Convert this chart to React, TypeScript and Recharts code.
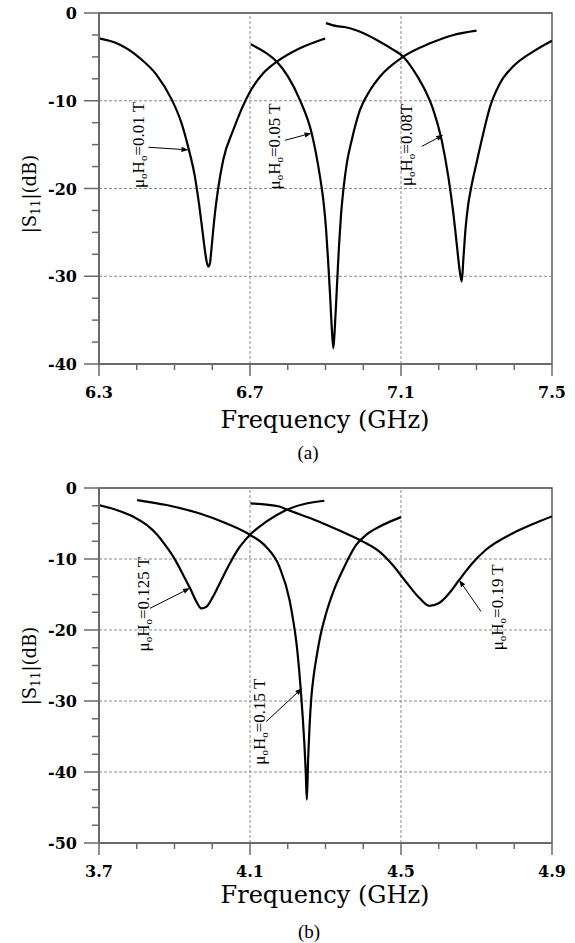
import React from 'react';
import { LineChart, Line, XAxis, YAxis, ReferenceLine, ReferenceDot, ReferenceArea } from 'recharts';

// ---------- Data: panel (a) ----------
const curveA001 = [
  { f: 6.3, v: -2.9 }, { f: 6.347, v: -3.46 }, { f: 6.409, v: -5.17 }, { f: 6.453, v: -7.07 },
  { f: 6.493, v: -9.9 }, { f: 6.519, v: -12.6 }, { f: 6.537, v: -15.4 }, { f: 6.554, v: -18.65 },
  { f: 6.566, v: -22.1 }, { f: 6.574, v: -24.8 }, { f: 6.581, v: -27.2 }, { f: 6.586, v: -28.5 },
  { f: 6.59, v: -28.9 }, { f: 6.594, v: -28.5 }, { f: 6.597, v: -27.3 }, { f: 6.602, v: -25.0 },
  { f: 6.608, v: -22.5 }, { f: 6.615, v: -20.2 }, { f: 6.629, v: -16.75 }, { f: 6.656, v: -13.3 },
  { f: 6.7, v: -8.97 }, { f: 6.735, v: -6.87 }, { f: 6.771, v: -5.55 }, { f: 6.832, v: -4.02 },
  { f: 6.899, v: -2.9 },
];
const curveA005 = [
  { f: 6.702, v: -3.57 }, { f: 6.744, v: -4.6 }, { f: 6.771, v: -5.55 }, { f: 6.8, v: -7.2 },
  { f: 6.832, v: -9.9 }, { f: 6.8634, v: -13.7 }, { f: 6.8748, v: -16.0 }, { f: 6.8854, v: -18.65 },
  { f: 6.8947, v: -21.5 }, { f: 6.9013, v: -24.5 }, { f: 6.9066, v: -28.0 }, { f: 6.9119, v: -32.0 },
  { f: 6.9172, v: -36.3 }, { f: 6.9207, v: -38.2 }, { f: 6.9252, v: -35.5 }, { f: 6.9305, v: -31.0 },
  { f: 6.9358, v: -26.5 }, { f: 6.9411, v: -23.0 }, { f: 6.9477, v: -20.0 }, { f: 6.957, v: -17.0 },
  { f: 6.9694, v: -14.5 }, { f: 6.9914, v: -11.05 }, { f: 7.018, v: -8.8 }, { f: 7.044, v: -7.26 },
  { f: 7.106, v: -4.98 }, { f: 7.177, v: -3.46 }, { f: 7.239, v: -2.5 }, { f: 7.3, v: -2.0 },
];
const curveA008 = [
  { f: 6.901, v: -1.15 }, { f: 6.93, v: -1.5 }, { f: 6.95, v: -1.6 }, { f: 6.983, v: -2.0 },
  { f: 7.044, v: -3.27 }, { f: 7.08, v: -4.2 }, { f: 7.106, v: -4.98 }, { f: 7.133, v: -6.5 },
  { f: 7.159, v: -8.4 }, { f: 7.1856, v: -11.05 }, { f: 7.2078, v: -14.5 }, { f: 7.2253, v: -18.65 },
  { f: 7.2386, v: -22.8 }, { f: 7.2476, v: -26.3 }, { f: 7.255, v: -29.2 }, { f: 7.2608, v: -30.6 },
  { f: 7.2656, v: -27.8 }, { f: 7.2709, v: -24.6 }, { f: 7.2775, v: -22.0 }, { f: 7.2854, v: -20.0 },
  { f: 7.3005, v: -17.0 }, { f: 7.318, v: -13.7 }, { f: 7.3358, v: -10.7 }, { f: 7.3623, v: -8.0 },
  { f: 7.3967, v: -6.1 }, { f: 7.4497, v: -4.4 }, { f: 7.5, v: -3.15 },
];
const xTicksA = [6.3, 6.4, 6.5, 6.6, 6.7, 6.8, 6.9, 7.0, 7.1, 7.2, 7.3, 7.4, 7.5];
const xMajorA = [6.3, 6.7, 7.1, 7.5];
const yTicksA = [0, -2.5, -5, -7.5, -10, -12.5, -15, -17.5, -20, -22.5, -25, -27.5, -30, -32.5, -35, -37.5, -40];
const yMajorA = [0, -10, -20, -30, -40];
const xGridA = [6.7, 7.1];
const yGridA = [-10, -20, -30];
const labelsA = [
  { f: 6.419, v: -15.04, text: '=0.01 T' },
  { f: 6.779, v: -15.2, text: '=0.05 T' },
  { f: 7.129, v: -15.04, text: '=0.08T' },
];
const arrowsA = [
  { f1: 6.431, v1: -15.3, f2: 6.537, v2: -15.6 },
  { f1: 6.793, v1: -14.5, f2: 6.863, v2: -13.7 },
  { f1: 7.155, v1: -15.2, f2: 7.212, v2: -13.9 },
];

// ---------- Data: panel (b) ----------
const curveB0125 = [
  { f: 3.7, v: -2.4 }, { f: 3.747, v: -3.1 }, { f: 3.791, v: -4.04 }, { f: 3.826, v: -5.2 },
  { f: 3.853, v: -6.5 }, { f: 3.879, v: -8.3 }, { f: 3.901, v: -10.05 }, { f: 3.923, v: -12.25 },
  { f: 3.941, v: -14.1 }, { f: 3.958, v: -16.0 }, { f: 3.971, v: -16.95 }, { f: 3.985, v: -16.7 },
  { f: 4.002, v: -15.3 }, { f: 4.02, v: -13.4 }, { f: 4.042, v: -11.1 }, { f: 4.064, v: -9.0 },
  { f: 4.1, v: -6.6 }, { f: 4.143, v: -4.75 }, { f: 4.196, v: -3.1 }, { f: 4.297, v: -1.8 },
];
const curveB015 = [
  { f: 3.801, v: -1.7 }, { f: 3.879, v: -2.4 }, { f: 3.967, v: -3.6 }, { f: 4.038, v: -5.0 },
  { f: 4.1, v: -6.6 }, { f: 4.143, v: -8.3 }, { f: 4.178, v: -11.1 }, { f: 4.2049, v: -15.8 },
  { f: 4.2155, v: -19.0 }, { f: 4.2234, v: -22.0 }, { f: 4.23, v: -25.5 }, { f: 4.2353, v: -29.0 },
  { f: 4.24, v: -32.5 }, { f: 4.244, v: -36.0 }, { f: 4.2477, v: -40.0 }, { f: 4.2506, v: -43.9 },
  { f: 4.2541, v: -38.0 }, { f: 4.2578, v: -33.5 }, { f: 4.2625, v: -29.5 }, { f: 4.2683, v: -26.6 },
  { f: 4.2763, v: -23.8 }, { f: 4.2842, v: -21.4 }, { f: 4.3019, v: -17.6 }, { f: 4.3193, v: -14.8 },
  { f: 4.3458, v: -11.55 }, { f: 4.3812, v: -8.0 }, { f: 4.4077, v: -6.6 }, { f: 4.4428, v: -5.45 },
  { f: 4.5, v: -4.1 },
];
const curveB019 = [
  { f: 4.101, v: -2.16 }, { f: 4.178, v: -2.6 }, { f: 4.196, v: -3.0 }, { f: 4.267, v: -4.4 },
  { f: 4.337, v: -6.0 }, { f: 4.399, v: -7.55 }, { f: 4.443, v: -8.97 }, { f: 4.478, v: -10.85 },
  { f: 4.513, v: -13.2 }, { f: 4.549, v: -15.5 }, { f: 4.575, v: -16.6 }, { f: 4.601, v: -16.2 },
  { f: 4.628, v: -14.8 }, { f: 4.654, v: -12.96 }, { f: 4.689, v: -10.6 }, { f: 4.725, v: -8.7 },
  { f: 4.795, v: -6.4 }, { f: 4.848, v: -5.1 }, { f: 4.9, v: -4.0 },
];
const xTicksB = [3.7, 3.8, 3.9, 4.0, 4.1, 4.2, 4.3, 4.4, 4.5, 4.6, 4.7, 4.8, 4.9];
const xMajorB = [3.7, 4.1, 4.5, 4.9];
const yTicksB = [0, -2.5, -5, -7.5, -10, -12.5, -15, -17.5, -20, -22.5, -25, -27.5, -30, -32.5, -35, -37.5, -40, -42.5, -45, -47.5, -50];
const yMajorB = [0, -10, -20, -30, -40, -50];
const xGridB = [4.1, 4.5];
const yGridB = [-10, -20, -30, -40];
const labelsB = [
  { f: 3.832, v: -16.35, text: '=0.125 T' },
  { f: 4.139, v: -32.9, text: '=0.15 T' },
  { f: 4.771, v: -16.8, text: '=0.19 T' },
];
const arrowsB = [
  { f1: 3.835, v1: -16.95, f2: 3.941, v2: -14.1 },
  { f1: 4.143, v1: -32.9, f2: 4.238, v2: -28.2 },
  { f1: 4.712, v1: -17.4, f2: 4.654, v2: -12.96 },
];

const AXIS_COLOR = '#6a6a6a';
const TICK_FONT = 'DejaVu Serif';
const isMajor = (majors: number[], v: number) => majors.some((m) => Math.abs(m - v) < 1e-6);

const makeXTick = (majors: number[]) => (props: any) => {
  const { x, y, payload } = props;
  const v = payload.value as number;
  const major = isMajor(majors, v);
  return (
    <g>
      <line x1={x} y1={y} x2={x} y2={y + (major ? 12 : 6)} stroke={AXIS_COLOR} strokeWidth={1.5} />
      {major && (
        <text x={x} y={y + 34} textAnchor="middle" fontFamily={TICK_FONT} fontWeight="bold" fontSize={16} fill="#000">
          {v.toFixed(1)}
        </text>
      )}
    </g>
  );
};

const makeYTick = (majors: number[]) => (props: any) => {
  const { x, y, payload } = props;
  const v = payload.value as number;
  const major = isMajor(majors, v);
  return (
    <g>
      <line x1={x - (major ? 15 : 7)} y1={y} x2={x} y2={y} stroke={AXIS_COLOR} strokeWidth={1.5} />
      {major && (
        <text x={x - 22} y={y + 6} textAnchor="end" fontFamily={TICK_FONT} fontWeight="bold" fontSize={16} fill="#000">
          {String(v)}
        </text>
      )}
    </g>
  );
};

const MuLabel = ({ cx, cy, text }: { cx: number; cy: number; text: string }) => (
  <text
    x={cx}
    y={cy}
    transform={`rotate(-90 ${cx} ${cy})`}
    textAnchor="middle"
    fontFamily="Liberation Serif"
    fontSize={17}
    fill="#000"
  >
    μ<tspan dy={3} fontSize={11}>o</tspan>
    <tspan dy={-3}>H</tspan>
    <tspan dy={3} fontSize={11}>o</tspan>
    <tspan dy={-3}>{text}</tspan>
  </text>
);

const ArrowShape = (props: any) => {
  const { x1, y1, x2, y2 } = props;
  if ([x1, y1, x2, y2].some((n) => typeof n !== 'number' || isNaN(n))) return null;
  const a = Math.atan2(y2 - y1, x2 - x1);
  const L = 7;
  const W = 2.6;
  const bx = x2 - L * Math.cos(a);
  const by = y2 - L * Math.sin(a);
  const px = -Math.sin(a) * W;
  const py = Math.cos(a) * W;
  return (
    <g>
      <line x1={x1} y1={y1} x2={bx} y2={by} stroke="#000" strokeWidth={1} />
      <polygon points={`${x2},${y2} ${bx + px},${by + py} ${bx - px},${by - py}`} fill="#000" />
    </g>
  );
};

type Pt = { f: number; v: number };
type Lab = { f: number; v: number; text: string };
type Arr = { f1: number; v1: number; f2: number; v2: number };

const Panel = ({
  height,
  curves,
  xDomain,
  yDomain,
  xTicks,
  xMajor,
  yTicks,
  yMajor,
  xGrid,
  yGrid,
  labels,
  arrows,
}: {
  height: number;
  curves: Pt[][];
  xDomain: [number, number];
  yDomain: [number, number];
  xTicks: number[];
  xMajor: number[];
  yTicks: number[];
  yMajor: number[];
  xGrid: number[];
  yGrid: number[];
  labels: Lab[];
  arrows: Arr[];
}) => (
  <LineChart width={575} height={height} margin={{ top: 13, right: 23, bottom: 0, left: 0 }}>
    <XAxis
      type="number"
      dataKey="f"
      domain={xDomain}
      allowDataOverflow
      ticks={xTicks}
      interval={0}
      tickSize={0}
      tickMargin={0}
      height={40}
      tickLine={false}
      axisLine={{ stroke: AXIS_COLOR, strokeWidth: 2 }}
      tick={makeXTick(xMajor)}
    />
    <YAxis
      type="number"
      dataKey="v"
      domain={yDomain}
      allowDataOverflow
      ticks={yTicks}
      interval={0}
      tickSize={0}
      tickMargin={0}
      width={99}
      tickLine={false}
      axisLine={{ stroke: AXIS_COLOR, strokeWidth: 2 }}
      tick={makeYTick(yMajor)}
    />
    <ReferenceArea
      x1={xDomain[0]}
      x2={xDomain[1]}
      y1={yDomain[0]}
      y2={yDomain[1]}
      fill="none"
      fillOpacity={0}
      stroke="#444"
      strokeWidth={1.3}
    />
    {xGrid.map((g) => (
      <ReferenceLine key={'xg' + g} x={g} stroke="#8a8a8a" strokeDasharray="3 2" strokeWidth={1} />
    ))}
    {yGrid.map((g) => (
      <ReferenceLine key={'yg' + g} y={g} stroke="#8a8a8a" strokeDasharray="3 2" strokeWidth={1} />
    ))}
    {curves.map((c, i) => (
      <Line
        key={'c' + i}
        data={c}
        dataKey="v"
        type="monotone"
        stroke="#000"
        strokeWidth={2.2}
        dot={false}
        activeDot={false}
        isAnimationActive={false}
      />
    ))}
    {arrows.map((a, i) => (
      <ReferenceLine
        key={'a' + i}
        segment={[
          { x: a.f1, y: a.v1 },
          { x: a.f2, y: a.v2 },
        ]}
        shape={ArrowShape}
      />
    ))}
    {labels.map((l, i) => (
      <ReferenceDot
        key={'l' + i}
        x={l.f}
        y={l.v}
        r={0}
        shape={(p: any) => <MuLabel cx={p.cx} cy={p.cy} text={l.text} />}
      />
    ))}
  </LineChart>
);

const YTitle = ({ x, y }: { x: number; y: number }) => (
  <text x={x} y={y} transform={`rotate(-90 ${x} ${y})`} textAnchor="middle" fontFamily="DejaVu Serif" fontSize={18} fill="#000">
    |S<tspan dy={4} fontSize={12}>11</tspan>
    <tspan dy={-4}>|(dB)</tspan>
  </text>
);

export default function App() {
  return (
    <div style={{ position: 'absolute', left: 0, top: 0, width: 575, height: 943, background: '#fff' }}>
      <div style={{ position: 'absolute', left: 0, top: 0 }}>
        <Panel
          height={404}
          curves={[curveA001, curveA005, curveA008]}
          xDomain={[6.3, 7.5]}
          yDomain={[-40, 0]}
          xTicks={xTicksA}
          xMajor={xMajorA}
          yTicks={yTicksA}
          yMajor={yMajorA}
          xGrid={xGridA}
          yGrid={yGridA}
          labels={labelsA}
          arrows={arrowsA}
        />
      </div>
      <div style={{ position: 'absolute', left: 0, top: 475 }}>
        <Panel
          height={408}
          curves={[curveB0125, curveB015, curveB019]}
          xDomain={[3.7, 4.9]}
          yDomain={[-50, 0]}
          xTicks={xTicksB}
          xMajor={xMajorB}
          yTicks={yTicksB}
          yMajor={yMajorB}
          xGrid={xGridB}
          yGrid={yGridB}
          labels={labelsB}
          arrows={arrowsB}
        />
      </div>
      <svg width={575} height={943} style={{ position: 'absolute', left: 0, top: 0, pointerEvents: 'none' }}>
        <YTitle x={36} y={194} />
        <YTitle x={36} y={666} />
        <text x={325} y={428} textAnchor="middle" fontFamily="DejaVu Serif" fontSize={24} fill="#000">
          Frequency (GHz)
        </text>
        <text x={325} y={903} textAnchor="middle" fontFamily="DejaVu Serif" fontSize={24} fill="#000">
          Frequency (GHz)
        </text>
        <text x={308} y={459} textAnchor="middle" fontFamily="Liberation Serif" fontSize={19} fill="#000">
          (a)
        </text>
        <text x={309} y={938} textAnchor="middle" fontFamily="Liberation Serif" fontSize={19} fill="#000">
          (b)
        </text>
      </svg>
    </div>
  );
}
